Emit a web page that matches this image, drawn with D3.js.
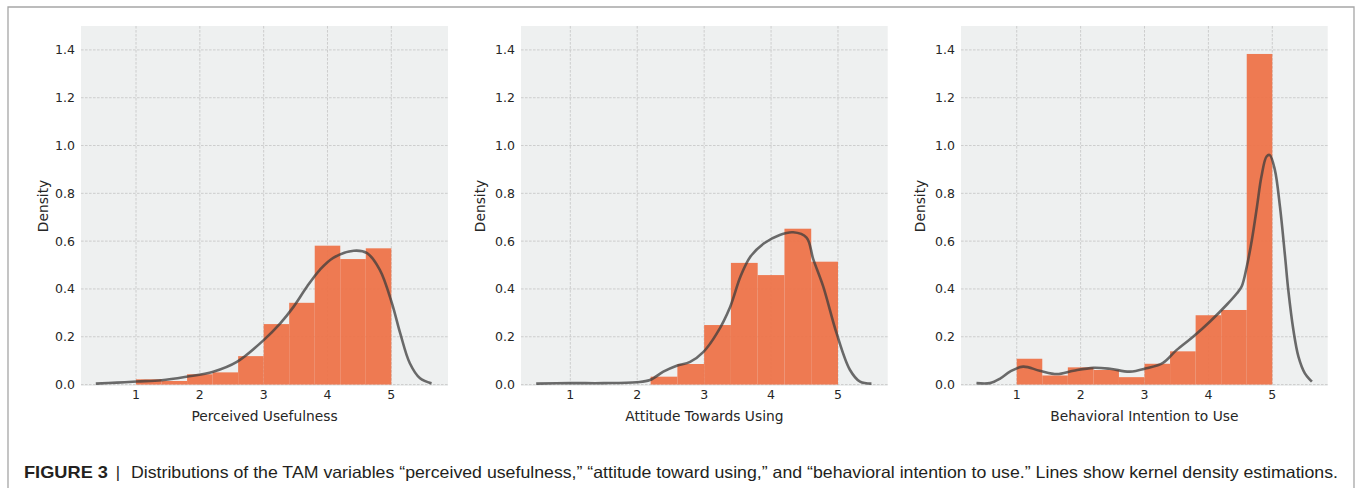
<!DOCTYPE html>
<html>
<head>
<meta charset="utf-8">
<script src="https://cdn.jsdelivr.net/npm/d3@7"></script>
<style>
  html, body { margin: 0; padding: 0; background: #fff; }
  svg { display: block; }
  .tick-label { font-family: "DejaVu Sans", sans-serif; font-size: 12.5px; fill: #262626; }
  .axis-label { font-family: "DejaVu Sans", sans-serif; font-size: 13.8px; fill: #262626; }
  .caption { font-family: "Liberation Sans Narrow", "Liberation Sans", Arial, sans-serif; font-size: 16.5px; fill: #231f20; }
</style>
</head>
<body>
<svg id="chart" width="1355" height="488"></svg>
<script>
const svg = d3.select("svg#chart");

// histogram bins (shared by all three variables)
const binEdges = [1.0, 1.4, 1.8, 2.2, 2.6, 3.0, 3.4, 3.8, 4.2, 4.6, 5.0];

// bar heights (density)
const puHist  = [0.022, 0.015, 0.043, 0.051, 0.119, 0.253, 0.342, 0.581, 0.525, 0.570];
const atuHist = [0, 0, 0, 0.033, 0.086, 0.249, 0.509, 0.458, 0.652, 0.514];
const biHist  = [0.108, 0.038, 0.072, 0.061, 0.031, 0.087, 0.139, 0.290, 0.312, 1.383];

// kernel density curves
const puKdeX = [0.37, 0.7, 1.01, 1.4, 1.79, 2.21, 2.58, 3.0, 3.26, 3.47, 3.68, 3.88, 4.09, 4.41, 4.62, 4.82, 5.01, 5.14, 5.29, 5.45, 5.63];
const puKdeY = [0.004, 0.008, 0.013, 0.018, 0.033, 0.054, 0.095, 0.186, 0.256, 0.326, 0.41, 0.48, 0.53, 0.56, 0.55, 0.48, 0.34, 0.214, 0.089, 0.026, 0.005];

const atuKdeX = [0.49, 1.0, 1.5, 1.99, 2.19, 2.39, 2.59, 2.79, 2.99, 3.19, 3.39, 3.54, 3.69, 3.89, 4.13, 4.33, 4.53, 4.63, 4.78, 4.98, 5.18, 5.33, 5.5];
const atuKdeY = [0.004, 0.006, 0.006, 0.01, 0.019, 0.054, 0.079, 0.095, 0.137, 0.214, 0.326, 0.45, 0.535, 0.59, 0.626, 0.637, 0.615, 0.525, 0.41, 0.214, 0.061, 0.012, 0.004];

const biKdeX = [0.37, 0.58, 0.74, 0.9, 1.1, 1.36, 1.63, 1.89, 2.2, 2.46, 2.77, 3.03, 3.29, 3.5, 3.76, 4.03, 4.29, 4.44, 4.52, 4.6, 4.68, 4.76, 4.83, 4.91, 4.96, 5.04, 5.12, 5.2, 5.25, 5.33, 5.41, 5.51, 5.62];
const biKdeY = [0.006, 0.006, 0.025, 0.055, 0.075, 0.058, 0.044, 0.058, 0.07, 0.066, 0.054, 0.068, 0.091, 0.144, 0.2, 0.265, 0.335, 0.38, 0.41, 0.493, 0.605, 0.744, 0.87, 0.954, 0.96, 0.898, 0.744, 0.535, 0.396, 0.228, 0.116, 0.047, 0.012];

const xTicks = [1, 2, 3, 4, 5];
const yTicks = [0.0, 0.2, 0.4, 0.6, 0.8, 1.0, 1.2, 1.4];
const xLabels = ["Perceived Usefulness", "Attitude Towards Using", "Behavioral Intention to Use"];
const yLabel = "Density";

const panels = [
  { left: 81,  right: 448,   xDomain: [0.138, 5.888], hist: puHist,  kx: puKdeX,  ky: puKdeY,  label: xLabels[0], yLabelX: 43 },
  { left: 521, right: 887.7, xDomain: [0.263, 5.743], hist: atuHist, kx: atuKdeX, ky: atuKdeY, label: xLabels[1], yLabelX: 480 },
  { left: 961, right: 1327.7, xDomain: [0.128, 5.867], hist: biHist, kx: biKdeX,  ky: biKdeY,  label: xLabels[2], yLabelX: 920 }
];

const plotTop = 26, plotBottom = 386;
const y = d3.scaleLinear().domain([-0.006, 1.5]).range([plotBottom, plotTop]);

// outer frame
svg.append("path")
  .attr("d", "M8,500 V7 H1354 V500")
  .attr("fill", "none")
  .attr("stroke", "#a6a6a6")
  .attr("stroke-width", 1.3);

panels.forEach(p => {
  const x = d3.scaleLinear().domain(p.xDomain).range([p.left, p.right]);
  const g = svg.append("g");

  g.append("rect")
    .attr("x", p.left).attr("y", plotTop)
    .attr("width", p.right - p.left).attr("height", plotBottom - plotTop)
    .attr("fill", "#eef0f0");

  // grid
  g.selectAll(".hgrid").data(yTicks).enter().append("line")
    .attr("x1", p.left).attr("x2", p.right)
    .attr("y1", d => y(d)).attr("y2", d => y(d))
    .attr("stroke", "#c4c4c4").attr("stroke-width", 0.8)
    .attr("stroke-dasharray", "2.6,1.4");
  g.selectAll(".vgrid").data(xTicks).enter().append("line")
    .attr("x1", d => x(d)).attr("x2", d => x(d))
    .attr("y1", plotTop).attr("y2", plotBottom)
    .attr("stroke", "#c4c4c4").attr("stroke-width", 0.8)
    .attr("stroke-dasharray", "2.6,1.4");

  // histogram bars
  const bins = p.hist
    .map((v, i) => ({ x0: binEdges[i], x1: binEdges[i + 1], v }))
    .filter(b => b.v > 0);
  g.selectAll(".bar").data(bins).enter().append("rect")
    .attr("x", d => x(d.x0))
    .attr("width", d => x(d.x1) - x(d.x0))
    .attr("y", d => y(d.v))
    .attr("height", d => y(0) - y(d.v))
    .attr("fill", "#ee7146")
    .attr("fill-opacity", 0.93);

  // KDE line
  const line = d3.line()
    .x(i => x(p.kx[i]))
    .y(i => y(p.ky[i]))
    .curve(d3.curveCatmullRom.alpha(0.5));
  g.append("path")
    .attr("d", line(d3.range(p.kx.length)))
    .attr("fill", "none")
    .attr("stroke", "#3c3c3c")
    .attr("stroke-opacity", 0.75)
    .attr("stroke-width", 2.6)
    .attr("stroke-linejoin", "round");

  // tick labels
  g.selectAll(".ytl").data(yTicks).enter().append("text")
    .attr("class", "tick-label")
    .attr("x", p.left - 6).attr("y", d => y(d))
    .attr("dy", "0.36em")
    .attr("text-anchor", "end")
    .text(d => d3.format(".1f")(d));
  g.selectAll(".xtl").data(xTicks).enter().append("text")
    .attr("class", "tick-label")
    .attr("x", d => x(d)).attr("y", 399)
    .attr("text-anchor", "middle")
    .text(d => d);

  // axis labels
  g.append("text")
    .attr("class", "axis-label")
    .attr("x", (p.left + p.right) / 2).attr("y", 421)
    .attr("text-anchor", "middle")
    .text(p.label);
  g.append("text")
    .attr("class", "axis-label")
    .attr("transform", `translate(${p.yLabelX + 5},${(plotTop + plotBottom) / 2}) rotate(-90)`)
    .attr("text-anchor", "middle")
    .text(yLabel);
});

// caption
svg.append("text").attr("class", "caption")
  .attr("x", 24).attr("y", 477.5)
  .attr("font-weight", "bold")
  .attr("textLength", 84).attr("lengthAdjust", "spacingAndGlyphs")
  .text("FIGURE 3");
svg.append("text").attr("class", "caption")
  .attr("x", 118).attr("y", 477.5)
  .attr("text-anchor", "middle")
  .text("|");
svg.append("text").attr("class", "caption")
  .attr("x", 131).attr("y", 477.5)
  .attr("textLength", 1207).attr("lengthAdjust", "spacingAndGlyphs")
  .text("Distributions of the TAM variables \u201cperceived usefulness,\u201d \u201cattitude toward using,\u201d and \u201cbehavioral intention to use.\u201d Lines show kernel density estimations.");
</script>
</body>
</html>
